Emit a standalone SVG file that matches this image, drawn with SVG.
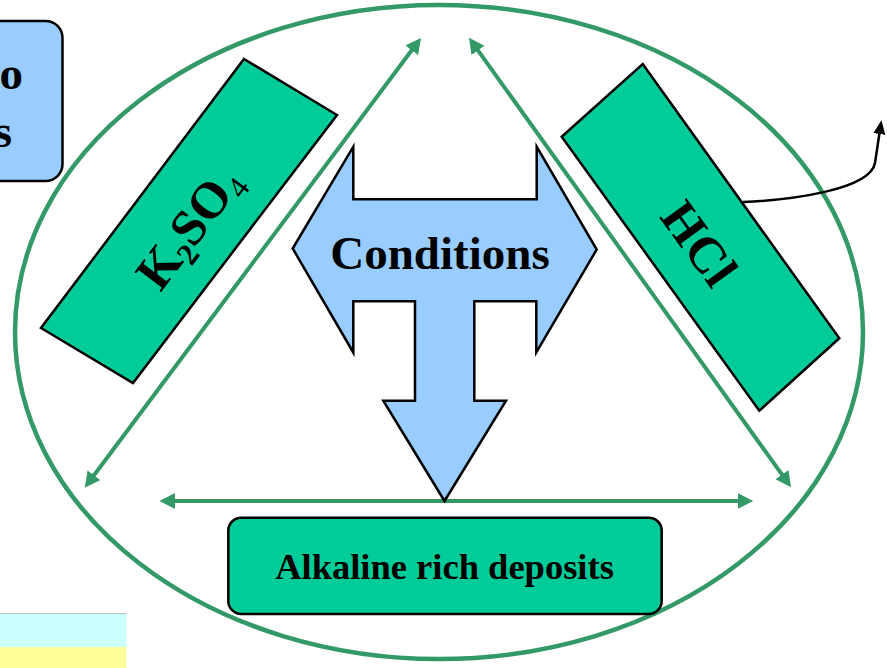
<svg xmlns="http://www.w3.org/2000/svg" width="887" height="668" viewBox="0 0 887 668">
<style>
.tb{font-family:"Liberation Serif","Times New Roman",serif;font-weight:bold;fill:#000}
.green{fill:#00CC99;stroke:#000;stroke-width:2.5}
.blue{fill:#99CCFF;stroke:#000;stroke-width:2.5}
.gl{stroke:#339966;stroke-width:4;fill:none}
.ring{stroke:#339966;stroke-width:4.5;fill:none}
</style>
<defs>
<marker id="ga" markerUnits="userSpaceOnUse" markerWidth="17" markerHeight="17" refX="5" refY="8" orient="auto-start-reverse">
<path d="M0,0 L15.5,8 L0,16 z" fill="#339966"/>
</marker>
<marker id="ba" markerUnits="userSpaceOnUse" markerWidth="15" markerHeight="13" refX="1" refY="6" orient="auto">
<path d="M0,0 L14,6 L0,12 z" fill="#000"/>
</marker>
</defs>
<rect x="0" y="0" width="887" height="668" fill="#fff"/>
<g id="strips">
<rect x="0" y="613.5" width="126.5" height="33.5" fill="#CCFFFF"/>
<rect x="0" y="647" width="126.5" height="21" fill="#FFFF99"/>
<line x1="0" y1="613.5" x2="126.5" y2="613.5" stroke="#C0C0C0" stroke-width="1"/>
</g>
<g id="partial-box">
<rect x="-30" y="21" width="92.5" height="160" rx="17" class="blue"/>
<text class="tb" font-size="47" x="23" y="89" text-anchor="end">o</text>
<text class="tb" font-size="47" x="12" y="147" text-anchor="end">s</text>
</g>
<g id="cycle">
<ellipse cx="439" cy="332" rx="424" ry="327" class="ring"/>
</g>
<g id="connectors">
<line x1="414.7" y1="46.3" x2="91" y2="479.3" class="gl" marker-start="url(#ga)" marker-end="url(#ga)"/>
<line x1="475.1" y1="46.4" x2="784.9" y2="478.6" class="gl" marker-start="url(#ga)" marker-end="url(#ga)"/>
<line x1="170" y1="501" x2="742.7" y2="501" class="gl" marker-start="url(#ga)" marker-end="url(#ga)"/>
<path d="M743,202 C790,200 870,190 875,163 L879.5,133" fill="none" stroke="#000" stroke-width="2.5" marker-end="url(#ba)"/>
</g>
<g id="k2so4">
<polygon points="244,59 337,115 133,383 41,328" class="green"/>
<text class="tb" font-size="51" transform="translate(188.5,221) rotate(-53)" x="-5" y="21" text-anchor="middle">K<tspan font-size="31" dy="9">2</tspan><tspan dy="-9">SO</tspan><tspan font-size="31" font-weight="normal" dy="9">4</tspan></text>
</g>
<g id="hcl">
<polygon points="642.7,64 839.3,338.3 759.3,410.7 561.7,136.7" class="green"/>
<text class="tb" font-size="51" transform="translate(700,243) rotate(54)" x="0" y="18" text-anchor="middle">HCl</text>
</g>
<g id="conditions">
<polygon points="292.7,248.5 353.3,146.7 353.3,199.3 536.7,199.3 536.7,146.7 596.7,249.5 536.3,352.5 536.3,301.2 474.3,301.2 474.3,400.7 506,400.7 444.5,501 383.3,400.7 415,400.7 415,301.2 353.3,301.2 353.3,352.5" class="blue"/>
<text class="tb" font-size="47" x="440" y="269" text-anchor="middle">Conditions</text>
</g>
<g id="alkaline">
<rect x="228.3" y="517.7" width="433.4" height="96.3" rx="13" class="green"/>
<text class="tb" font-size="36.5" x="444.5" y="579" text-anchor="middle">Alkaline rich deposits</text>
</g>
</svg>
